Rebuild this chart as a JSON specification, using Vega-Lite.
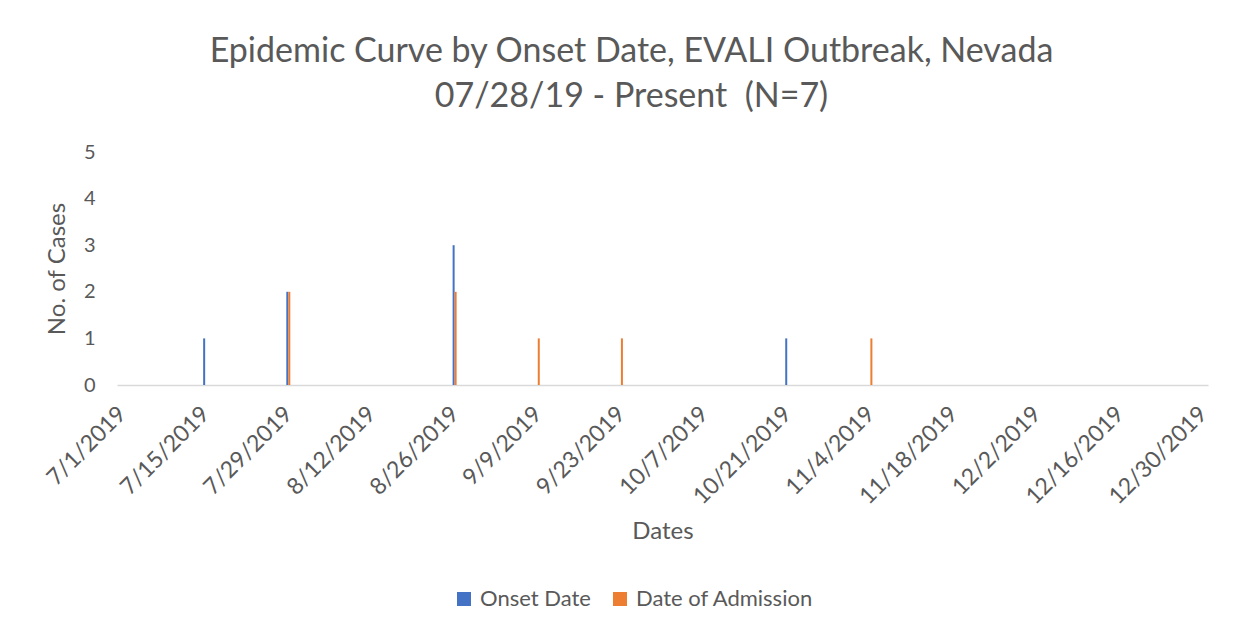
{
  "$schema": "https://vega.github.io/schema/vega-lite/v6.json",
  "autosize": {"type": "none"},
  "width": 1091,
  "height": 233,
  "padding": {"left": 117, "top": 152, "right": 44, "bottom": 247},
  "background": "white",
  "config": {
    "view": {"stroke": null},
    "font": "Lato",
    "text": {"font": "Lato"}
  },
  "title": {
    "text": ["Epidemic Curve by Onset Date, EVALI Outbreak, Nevada", "07/28/19 - Present\u00a0 (N=7)"],
    "font": "Lato",
    "fontSize": 34,
    "fontWeight": "normal",
    "color": "#595959",
    "anchor": "middle",
    "dx": -31,
    "lineHeight": 45,
    "offset": 28
  },
  "data": {
    "values": [
      {"date": "2019-07-15", "series": "Onset Date", "cases": 1},
      {"date": "2019-07-29", "series": "Onset Date", "cases": 2},
      {"date": "2019-08-26", "series": "Onset Date", "cases": 3},
      {"date": "2019-10-21", "series": "Onset Date", "cases": 1},
      {"date": "2019-07-29", "series": "Date of Admission", "cases": 2},
      {"date": "2019-08-26", "series": "Date of Admission", "cases": 2},
      {"date": "2019-09-09", "series": "Date of Admission", "cases": 1},
      {"date": "2019-09-23", "series": "Date of Admission", "cases": 1},
      {"date": "2019-11-04", "series": "Date of Admission", "cases": 1}
    ]
  },
  "encoding": {
    "x": {
      "field": "date",
      "type": "temporal",
      "scale": {
        "type": "utc",
        "domain": [
          {"year": 2019, "month": 7, "date": 1, "utc": true},
          {"year": 2019, "month": 12, "date": 30, "utc": true}
        ]
      },
      "axis": {
        "title": "Dates",
        "titleFont": "Lato",
        "titleFontSize": 24,
        "titleFontWeight": "normal",
        "titleColor": "#595959",
        "titlePadding": 11,
        "values": [
          {"year": 2019, "month": 7, "date": 1, "utc": true},
          {"year": 2019, "month": 7, "date": 15, "utc": true},
          {"year": 2019, "month": 7, "date": 29, "utc": true},
          {"year": 2019, "month": 8, "date": 12, "utc": true},
          {"year": 2019, "month": 8, "date": 26, "utc": true},
          {"year": 2019, "month": 9, "date": 9, "utc": true},
          {"year": 2019, "month": 9, "date": 23, "utc": true},
          {"year": 2019, "month": 10, "date": 7, "utc": true},
          {"year": 2019, "month": 10, "date": 21, "utc": true},
          {"year": 2019, "month": 11, "date": 4, "utc": true},
          {"year": 2019, "month": 11, "date": 18, "utc": true},
          {"year": 2019, "month": 12, "date": 2, "utc": true},
          {"year": 2019, "month": 12, "date": 16, "utc": true},
          {"year": 2019, "month": 12, "date": 30, "utc": true}
        ],
        "labelExpr": "utcFormat(datum.value, '%-m/%-d/%Y')",
        "labelAngle": -45,
        "labelAlign": "right",
        "labelBaseline": "middle",
        "labelFont": "Lato",
        "labelFontSize": 23,
        "labelColor": "#595959",
        "labelPadding": 25,
        "labelOverlap": false,
        "labelBound": false,
        "labelFlush": false,
        "ticks": false,
        "grid": false,
        "domainColor": "#d9d9d9",
        "domainWidth": 1.5
      }
    },
    "y": {
      "field": "cases",
      "type": "quantitative",
      "scale": {"domain": [0, 5], "nice": false},
      "axis": {
        "title": "No. of Cases",
        "titleFont": "Lato",
        "titleFontSize": 24,
        "titleFontWeight": "normal",
        "titleColor": "#595959",
        "titlePadding": 14,
        "values": [0, 1, 2, 3, 4, 5],
        "labelFont": "Lato",
        "labelFontSize": 20,
        "labelColor": "#595959",
        "labelPadding": 22,
        "ticks": false,
        "grid": false,
        "domain": false
      }
    },
    "color": {
      "field": "series",
      "type": "nominal",
      "scale": {"domain": ["Onset Date", "Date of Admission"], "range": ["#4472C4", "#ED7D31"]},
      "legend": {
        "title": null,
        "orient": "none",
        "direction": "horizontal",
        "legendX": 336,
        "legendY": 436,
        "symbolType": "M-1,-1H1V1H-1Z",
        "symbolSize": 196,
        "symbolStrokeWidth": 0,
        "symbolOpacity": 1,
        "labelFont": "Lato",
        "labelFontSize": 22,
        "labelColor": "#595959",
        "labelOffset": 5,
        "labelLimit": 400,
        "columnPadding": 18
      }
    }
  },
  "layer": [
    {
      "transform": [{"filter": "datum.series === 'Onset Date'"}],
      "mark": {"type": "bar", "width": 2, "xOffset": -1}
    },
    {
      "transform": [{"filter": "datum.series === 'Date of Admission'"}],
      "mark": {"type": "bar", "width": 2, "xOffset": 1}
    }
  ]
}
